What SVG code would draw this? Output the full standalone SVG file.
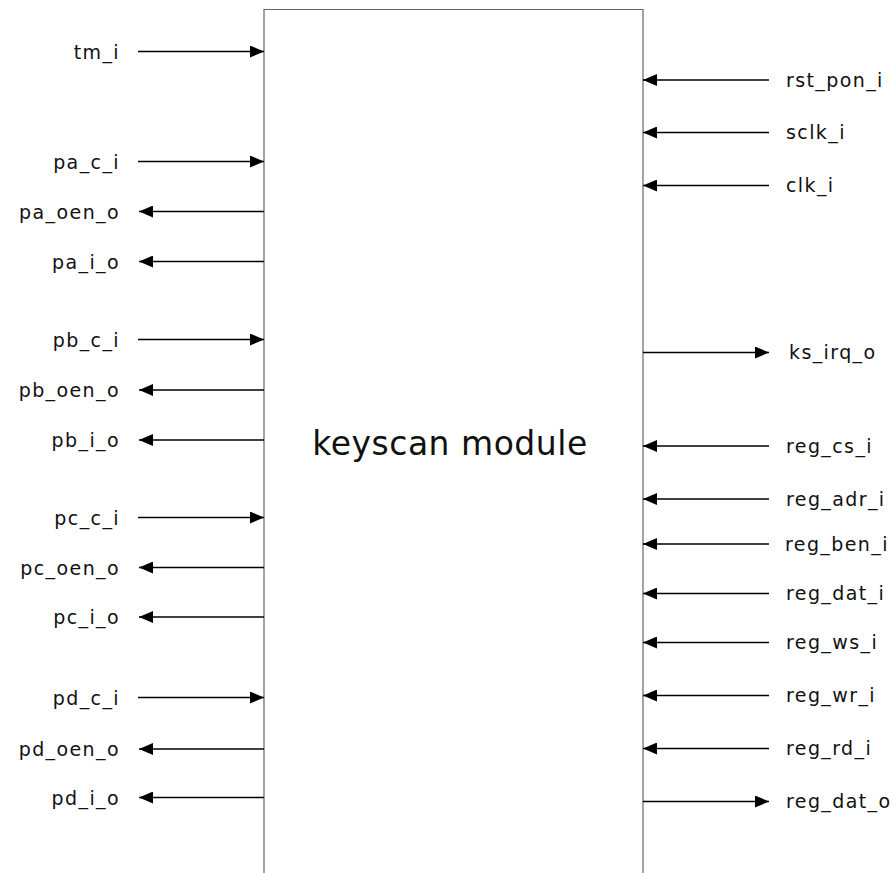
<svg xmlns="http://www.w3.org/2000/svg" width="896" height="873" viewBox="0 0 896 873">
<style>
.lbl{font-family:"DejaVu Sans","Noto Sans",sans-serif;font-size:19px;fill:#111;letter-spacing:1.4px}
.l{text-anchor:end}
.w{stroke:#000;stroke-width:1.6;fill:none;marker-end:url(#ah)}
.title{font-family:"DejaVu Sans","Noto Sans",sans-serif;font-size:33px;fill:#111;text-anchor:middle;letter-spacing:0.5px}
</style>
<defs>
<marker id="ah" markerUnits="userSpaceOnUse" markerWidth="14" markerHeight="12" refX="14" refY="6" orient="auto">
<path d="M0,0 L14,6 L0,12 z" fill="#000"/>
</marker>
</defs>
<rect width="896" height="873" fill="#fff"/>
<g id="keyscan">
<path d="M264,873 V9.5 H643 V873" fill="none" stroke="#666" stroke-width="1.2"/>
<text class="title" x="450" y="455">keyscan module</text>
</g>
<g id="connectors">
<line class="w" x1="138" y1="51.5" x2="264" y2="51.5"/>
<line class="w" x1="138" y1="161.5" x2="264" y2="161.5"/>
<line class="w" x1="264" y1="211.5" x2="139" y2="211.5"/>
<line class="w" x1="264" y1="261.5" x2="139" y2="261.5"/>
<line class="w" x1="138" y1="339.5" x2="264" y2="339.5"/>
<line class="w" x1="264" y1="390" x2="139" y2="390"/>
<line class="w" x1="264" y1="440" x2="139" y2="440"/>
<line class="w" x1="138" y1="517.5" x2="264" y2="517.5"/>
<line class="w" x1="264" y1="567.5" x2="139" y2="567.5"/>
<line class="w" x1="264" y1="617" x2="139" y2="617"/>
<line class="w" x1="138" y1="697.5" x2="264" y2="697.5"/>
<line class="w" x1="264" y1="749" x2="139" y2="749"/>
<line class="w" x1="264" y1="797.5" x2="139" y2="797.5"/>
<line class="w" x1="769" y1="80" x2="643" y2="80"/>
<line class="w" x1="769" y1="132.5" x2="643" y2="132.5"/>
<line class="w" x1="769" y1="185.5" x2="643" y2="185.5"/>
<line class="w" x1="643" y1="352.5" x2="769" y2="352.5"/>
<line class="w" x1="769" y1="446" x2="643" y2="446"/>
<line class="w" x1="769" y1="499" x2="643" y2="499"/>
<line class="w" x1="769" y1="544" x2="643" y2="544"/>
<line class="w" x1="769" y1="593.5" x2="643" y2="593.5"/>
<line class="w" x1="769" y1="642.5" x2="643" y2="642.5"/>
<line class="w" x1="769" y1="695.5" x2="643" y2="695.5"/>
<line class="w" x1="769" y1="748.5" x2="643" y2="748.5"/>
<line class="w" x1="643" y1="801.5" x2="769" y2="801.5"/>
</g>
<g id="labels-left">
<text class="lbl l" x="120" y="58.5">tm_i</text>
<text class="lbl l" x="120" y="168.5">pa_c_i</text>
<text class="lbl l" x="120" y="218.5">pa_oen_o</text>
<text class="lbl l" x="120" y="268.5">pa_i_o</text>
<text class="lbl l" x="120" y="346.5">pb_c_i</text>
<text class="lbl l" x="120" y="397">pb_oen_o</text>
<text class="lbl l" x="120" y="447">pb_i_o</text>
<text class="lbl l" x="120" y="524.5">pc_c_i</text>
<text class="lbl l" x="120" y="574.5">pc_oen_o</text>
<text class="lbl l" x="120" y="624">pc_i_o</text>
<text class="lbl l" x="120" y="704.5">pd_c_i</text>
<text class="lbl l" x="120" y="756">pd_oen_o</text>
<text class="lbl l" x="120" y="804.5">pd_i_o</text>
</g>
<g id="labels-right">
<text class="lbl" x="786" y="86.5">rst_pon_i</text>
<text class="lbl" x="786" y="139">sclk_i</text>
<text class="lbl" x="786" y="192">clk_i</text>
<text class="lbl" x="789" y="359">ks_irq_o</text>
<text class="lbl" x="786" y="452.5">reg_cs_i</text>
<text class="lbl" x="786" y="505.5">reg_adr_i</text>
<text class="lbl" x="785" y="550.5">reg_ben_i</text>
<text class="lbl" x="786" y="600">reg_dat_i</text>
<text class="lbl" x="786" y="649">reg_ws_i</text>
<text class="lbl" x="786" y="702">reg_wr_i</text>
<text class="lbl" x="786" y="755">reg_rd_i</text>
<text class="lbl" x="786" y="808">reg_dat_o</text>
</g>
</svg>
